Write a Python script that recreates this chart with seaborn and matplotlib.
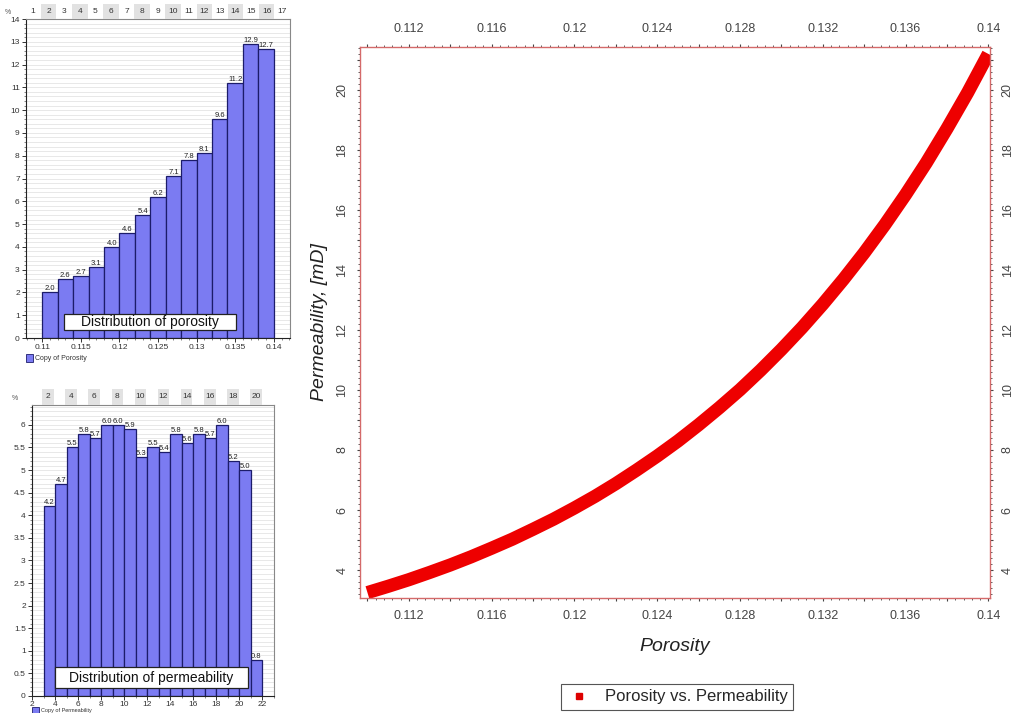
import numpy as np
import pandas as pd
import seaborn as sns
import matplotlib
matplotlib.use("Agg")
import matplotlib.pyplot as plt
from matplotlib.ticker import MultipleLocator, FuncFormatter
from matplotlib.lines import Line2D
from matplotlib.patches import Rectangle

# ---------------- data ----------------
por_bin_centers = [0.111, 0.113, 0.115, 0.117, 0.119, 0.121, 0.123, 0.125,
                   0.127, 0.129, 0.131, 0.133, 0.135, 0.137, 0.139]
por_pct = [2.0, 2.6, 2.7, 3.1, 4.0, 4.6, 5.4, 6.2, 7.1, 7.8, 8.1, 9.6, 11.2, 12.9, 12.7]
por_top_labels = list(range(1, 18))

perm_bin_centers = [3.5, 4.5, 5.5, 6.5, 7.5, 8.5, 9.5, 10.5, 11.5, 12.5,
                    13.5, 14.5, 15.5, 16.5, 17.5, 18.5, 19.5, 20.5, 21.5]
perm_pct = [4.2, 4.7, 5.5, 5.8, 5.7, 6.0, 6.0, 5.9, 5.3, 5.5,
            5.4, 5.8, 5.6, 5.8, 5.7, 6.0, 5.2, 5.0, 0.8]
perm_top_labels = list(range(2, 21, 2))

porosity = [0.110, 0.111, 0.112, 0.113, 0.114, 0.115, 0.116, 0.117, 0.118, 0.119,
            0.120, 0.121, 0.122, 0.123, 0.124, 0.125, 0.126, 0.127, 0.128, 0.129,
            0.130, 0.131, 0.132, 0.133, 0.134, 0.135, 0.136, 0.137, 0.138, 0.139, 0.140]
permeability = [3.25, 3.46, 3.68, 3.92, 4.17, 4.44, 4.73, 5.03, 5.36, 5.70,
                6.07, 6.46, 6.88, 7.33, 7.80, 8.30, 8.84, 9.41, 10.01, 10.66,
                11.35, 12.08, 12.86, 13.69, 14.57, 15.51, 16.51, 17.57, 18.71, 19.91, 21.20]

# ---------------- style ----------------
sns.set_theme(style="ticks")
plt.rcParams['font.family'] = ['Liberation Sans', 'DejaVu Sans']

W, H = 1020, 713
fig = plt.figure(figsize=(W / 100, H / 100), dpi=100)
fig.patch.set_facecolor('white')

BAR = '#7b7bf2'
EDGE = '#1c1c6a'


def fx(px):
    return px / W


def fy(py):
    return 1 - py / H


def rect_axes(l, t, r, b):
    return fig.add_axes([fx(l), fy(b), fx(r - l), (b - t) / H])


def hist_panel(ax, centers, vals, width, xlim, ylim, xmaj, xmin, ymaj, ymin, lab_fs, xpad=1.5):
    edges = list(np.r_[np.asarray(centers) - width / 2, centers[-1] + width / 2])
    df = pd.DataFrame({'x': centers, 'w': vals})
    sns.histplot(data=df, x='x', weights='w', bins=edges, ax=ax, color=BAR,
                 edgecolor=EDGE, linewidth=0.9, alpha=1)
    ax.set_xlim(*xlim)
    ax.set_ylim(*ylim)
    ax.set_xlabel('')
    ax.set_ylabel('')
    ax.xaxis.set_major_locator(MultipleLocator(xmaj))
    ax.xaxis.set_minor_locator(MultipleLocator(xmin))
    ax.yaxis.set_major_locator(MultipleLocator(ymaj))
    ax.yaxis.set_minor_locator(MultipleLocator(ymin))
    ax.xaxis.set_major_formatter(FuncFormatter(lambda v, p: '%g' % round(v, 4)))
    ax.yaxis.set_major_formatter(FuncFormatter(lambda v, p: '%g' % round(v, 4)))
    ax.grid(which='both', axis='y', color='#e4e4e4', lw=0.6)
    ax.set_axisbelow(True)
    ax.tick_params(which='major', labelsize=6, length=3, width=0.7, color='#333',
                   labelcolor='#333', pad=1.5, bottom=True, left=True)
    ax.tick_params(axis='x', which='major', pad=xpad)
    ax.tick_params(which='minor', length=1.5, width=0.5, color='#555', bottom=True, left=True)
    for s in ['left', 'bottom']:
        ax.spines[s].set_color('#222')
        ax.spines[s].set_linewidth(0.8)
    for s in ['right', 'top']:
        ax.spines[s].set_visible(True)
        ax.spines[s].set_color('#888')
        ax.spines[s].set_linewidth(0.8)
    for p in ax.patches:
        h = p.get_height()
        if h > 0:
            ax.text(p.get_x() + p.get_width() / 2, h, '%.1f' % h, ha='center', va='bottom',
                    fontsize=lab_fs, color='#222')


def band(l, t, r, b, xlim, labels, fs=6):
    bax = rect_axes(l, t, r, b)
    bax.set_xlim(*xlim)
    bax.set_ylim(0, 1)
    for v in labels:
        if v % 2 == 0:
            bax.axvspan(v - 0.5, v + 0.5, color='#e2e2e2', lw=0)
        bax.text(v, 0.5, str(v), ha='center', va='center', fontsize=fs, color='#333')
    bax.axis('off')


def label_box(l, t, r, b, text, fs):
    fig.patches.append(Rectangle((fx(l), fy(b)), fx(r - l), (b - t) / H,
                                 transform=fig.transFigure, fc='white', ec='#222',
                                 lw=0.9, zorder=5))
    fig.text(fx((l + r) / 2), fy((t + b) / 2 + 0.5), text, ha='center', va='center',
             fontsize=fs, color='#111', zorder=6)


# ---------------- porosity histogram ----------------
ax1 = rect_axes(26, 19, 290, 338)
hist_panel(ax1, por_bin_centers, por_pct, 0.002, (0.1079, 0.1421), (0, 14),
           0.005, 0.001, 1, 0.2, 5.5)
band(26, 4, 290, 19, (0.55, 17.5), por_top_labels)
fig.text(fx(8), fy(13), '%', fontsize=5, color='#555', ha='center', va='center')
label_box(64, 314, 236, 330, 'Distribution of porosity', 10)
fig.patches.append(Rectangle((fx(26), fy(362)), fx(7), 8 / H, transform=fig.transFigure,
                             fc=BAR, ec=EDGE, lw=0.6))
fig.text(fx(35), fy(358), 'Copy of Porosity', fontsize=5, color='#333', va='center')

# ---------------- permeability histogram ----------------
ax2 = rect_axes(32, 405, 274, 696)
hist_panel(ax2, perm_bin_centers, perm_pct, 1.0, (2, 23.04), (0, 6.44),
           2, 1, 0.5, 0.1, 5.5, xpad=0.8)
band(32, 389, 274, 405, (0.62, 21.56), perm_top_labels)
fig.text(fx(15), fy(398), '%', fontsize=5, color='#555', ha='center', va='center')
label_box(55, 667, 248, 688, 'Distribution of permeability', 10)
fig.patches.append(Rectangle((fx(32), fy(713)), fx(7), 6 / H, transform=fig.transFigure,
                             fc=BAR, ec=EDGE, lw=0.6))
fig.text(fx(41), fy(710.5), 'Copy of Permeability', fontsize=4, color='#333', va='center')

# ---------------- main curve ----------------
ax = rect_axes(360, 47, 990, 598)
sns.lineplot(x=porosity, y=permeability, ax=ax, color='#ee0000', lw=9.5,
             solid_capstyle='butt', solid_joinstyle='round', legend=False)
ax.set_xlim(0.10964, 0.14008)
ax.set_ylim(3.07, 21.43)
ax.xaxis.set_major_locator(MultipleLocator(0.002))
ax.xaxis.set_minor_locator(MultipleLocator(0.0004))
ax.yaxis.set_major_locator(MultipleLocator(1))
ax.yaxis.set_minor_locator(MultipleLocator(0.2))
ax.xaxis.set_major_formatter(FuncFormatter(
    lambda v, p: ('%g' % round(v, 4)) if int(round(v / 0.002)) % 2 == 0 else ''))
ax.yaxis.set_major_formatter(FuncFormatter(
    lambda v, p: ('%g' % round(v)) if int(round(v)) % 2 == 0 else ''))
ax.tick_params(which='both', top=True, right=True, bottom=True, left=True,
               labeltop=True, labelright=True, direction='out', color='#444')
ax.tick_params(which='major', length=2.5, width=0.8, labelsize=9, labelcolor='#444', pad=6)
ax.tick_params(which='minor', length=1.5, width=0.6)
ax.tick_params(axis='y', labelrotation=90)
for lbl in ax.get_yticklabels():
    lbl.set_va('center')
for s in ax.spines.values():
    s.set_visible(True)
    s.set_color('#d46a6a')
    s.set_linewidth(1.0)
ax.set_xlabel('Porosity', fontsize=14, style='italic', color='#222')
ax.set_ylabel('Permeability, [mD]', fontsize=14, style='italic', color='#222')
ax.xaxis.set_label_coords(0.5, (598 - 638) / 551)
ax.yaxis.set_label_coords((328 - 360) / 630, 0.5)

handle = Line2D([], [], marker='s', color='#dd0000', ls='none', markersize=5)
leg = fig.legend(handles=[handle], labels=['Porosity vs. Permeability'], loc='center',
                 bbox_to_anchor=(fx(677), fy(697)), frameon=True, fancybox=False,
                 edgecolor='#555', fontsize=12, handlelength=1.5, borderpad=0.35,
                 framealpha=1)
leg.get_frame().set_linewidth(0.8)

fig.savefig('out.png', dpi=100, facecolor='white')
